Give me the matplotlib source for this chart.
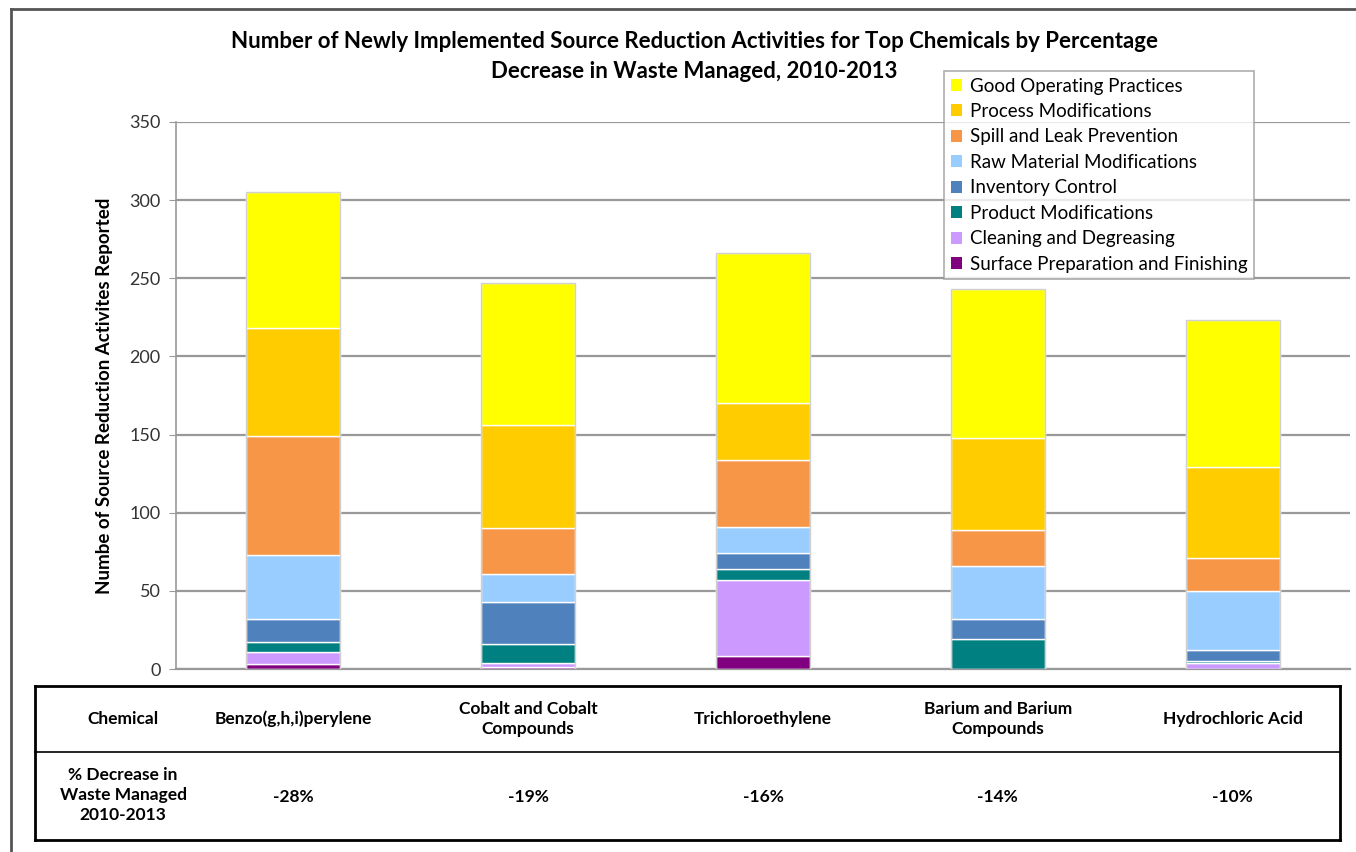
import matplotlib
matplotlib.use("Agg")
import matplotlib.pyplot as plt
from matplotlib.lines import Line2D
from matplotlib.patches import Patch
import numpy as np

chemicals = ["Benzo(g,h,i)perylene", "Cobalt and Cobalt\nCompounds", "Trichloroethylene",
             "Barium and Barium\nCompounds", "Hydrochloric Acid"]
pct_decrease = ["-28%", "-19%", "-16%", "-14%", "-10%"]

# stacked from bottom to top
categories = ["Surface Preparation and Finishing", "Cleaning and Degreasing", "Product Modifications",
              "Inventory Control", "Raw Material Modifications", "Spill and Leak Prevention",
              "Process Modifications", "Good Operating Practices"]
surface = [3, 1, 8, 0, 0]
cleaning = [8, 3, 49, 0, 4]
product = [6, 12, 7, 19, 1]
inventory = [15, 27, 10, 13, 7]
raw = [41, 18, 17, 34, 38]
spill = [76, 29, 43, 23, 21]
process = [69, 66, 36, 59, 58]
good = [87, 91, 96, 95, 94]
series = [surface, cleaning, product, inventory, raw, spill, process, good]
colors = ["#800080", "#CC99FF", "#008080", "#4F81BD", "#99CCFF", "#F79646", "#FFCC00", "#FFFF00"]
yticks = [0, 50, 100, 150, 200, 250, 300, 350]

W, H = 1356, 852
fig = plt.figure(figsize=(W / 100, H / 100), dpi=100)
plt.rcParams['font.family'] = ['Lato', 'DejaVu Sans']

def fx(px):
    return px / W

def fy(py):
    return 1 - py / H

ax = fig.add_axes([fx(176), fy(669), fx(1350) - fx(176), fy(122) - fy(669)])
x = np.arange(len(chemicals))
bottom = np.zeros(len(chemicals))
for vals, col, name in zip(series, colors, categories):
    v = np.array(vals, dtype=float)
    ax.bar(x, v, 0.4, bottom=bottom, color=col, edgecolor="white", linewidth=1.0, zorder=3, label=name)
    bottom += v
# light outline around each bar
ax.bar(x, bottom, 0.4, fill=False, edgecolor="#D0D0D0", linewidth=1.0, zorder=4)

ax.set_xlim(-0.5, len(chemicals) - 0.5)
ax.set_ylim(0, 350)
ax.set_yticks(yticks)
ax.set_xticks([])
ax.yaxis.grid(True, color="#999999", linewidth=1.6, zorder=0)
for s in ["top", "right"]:
    ax.spines[s].set_visible(False)
ax.spines["left"].set_color("#999999")
ax.spines["left"].set_linewidth(1.2)
ax.spines["bottom"].set_color("#999999")
ax.spines["bottom"].set_linewidth(1.6)
ax.tick_params(axis="y", length=5, color="#999999", labelsize=13, labelcolor="#333333", pad=6)
ax.set_ylabel("Numbe of Source Reduction Activites Reported", fontsize=13.5, fontweight="bold", labelpad=12)

fig.text(fx(694), fy(41), "Number of Newly Implemented Source Reduction Activities for Top Chemicals by Percentage",
         ha="center", va="center", fontsize=16, fontweight="bold")
fig.text(fx(694), fy(71), "Decrease in Waste Managed, 2010-2013",
         ha="center", va="center", fontsize=16, fontweight="bold")

handles = [Patch(facecolor=c, edgecolor="none") for c in colors][::-1]
labels = categories[::-1]
leg = fig.legend(handles, labels, loc="upper left", bbox_to_anchor=(fx(944), fy(71)),
                 fontsize=13.5, frameon=True, fancybox=False, edgecolor="#999999",
                 handlelength=0.6, handleheight=0.6, handletextpad=0.45, labelspacing=0.45,
                 borderpad=0.35, borderaxespad=0)
leg.get_frame().set_linewidth(1.2)
leg.set_zorder(10)

# table below
tl, tr, tt, tm, tb = 35, 1340, 686, 752, 840
kw = dict(transform=fig.transFigure, color="black", linewidth=2.0)
fig.add_artist(Line2D([fx(tl), fx(tr)], [fy(tt), fy(tt)], **kw))
fig.add_artist(Line2D([fx(tl), fx(tr)], [fy(tb), fy(tb)], **kw))
fig.add_artist(Line2D([fx(tl), fx(tl)], [fy(tt), fy(tb)], **kw))
fig.add_artist(Line2D([fx(tr), fx(tr)], [fy(tt), fy(tb)], **kw))
fig.add_artist(Line2D([fx(tl), fx(tr)], [fy(tm), fy(tm)], transform=fig.transFigure, color="black", linewidth=1.2))

fig.text(fx(123), fy(719), "Chemical", ha="center", va="center", fontsize=12.5, fontweight="bold")
fig.text(fx(123), fy(795), "% Decrease in\nWaste Managed\n2010-2013", ha="center", va="center",
         fontsize=12.5, fontweight="bold", linespacing=1.3)
for i, (c, p) in enumerate(zip(chemicals, pct_decrease)):
    xc = ax.transData.transform((i, 0))[0] / W
    fig.text(xc, fy(719), c, ha="center", va="center", fontsize=12.5, fontweight="bold", linespacing=1.25)
    fig.text(xc, fy(797), p, ha="center", va="center", fontsize=12.5, fontweight="bold")

# outer chart border (left and top visible)
bkw = dict(transform=fig.transFigure, color="#555555", linewidth=2.0)
fig.add_artist(Line2D([fx(11), 1.0], [fy(9), fy(9)], **bkw))
fig.add_artist(Line2D([fx(11), fx(11)], [fy(9), 0.0], **bkw))

fig.savefig("out.png", dpi=100)
